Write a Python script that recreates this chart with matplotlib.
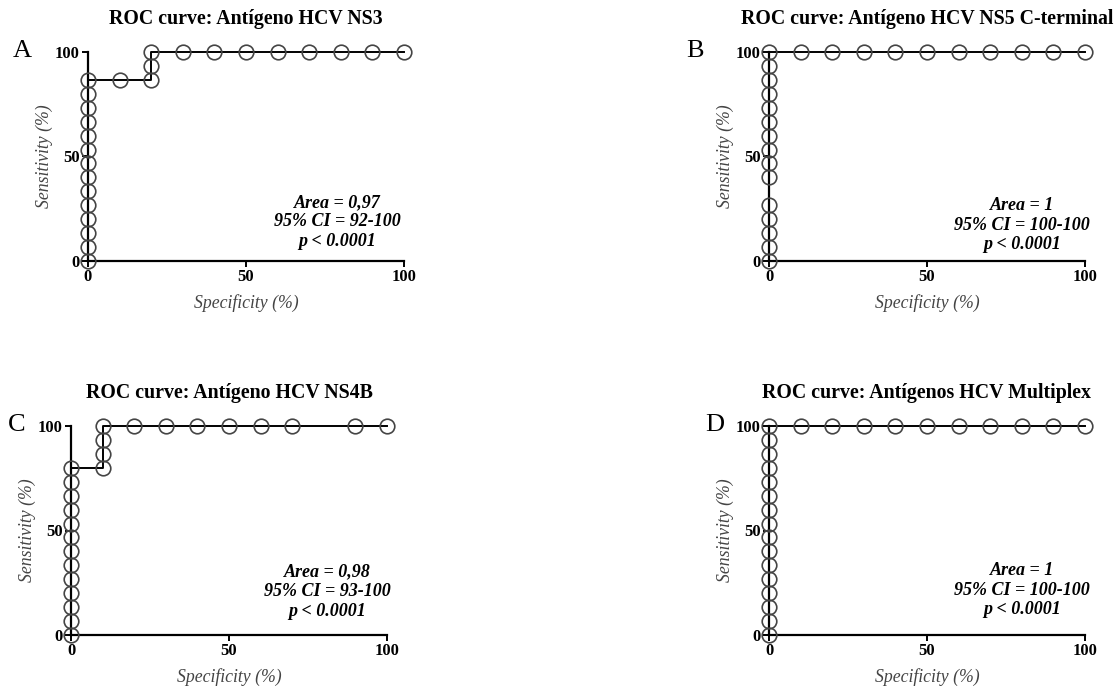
import matplotlib
matplotlib.use('Agg')
import matplotlib.pyplot as plt

matplotlib.rcParams['font.family'] = ['Liberation Serif', 'DejaVu Serif']

# ROC points (specificity %, sensitivity %)
s = 100 / 15

ns3_x = [0] * 14 + [10, 20, 20, 20, 30, 40, 50, 60, 70, 80, 90, 100]
ns3_y = [i * s for i in range(14)] + [13 * s, 13 * s, 14 * s, 100] + [100] * 8

ns5_x = [0] * 15 + [10, 20, 30, 40, 50, 60, 70, 80, 90, 100]
ns5_y = [i * s for i in [0, 1, 2, 3, 4, 6, 7, 8, 9, 10, 11, 12, 13, 14, 15]] + [100] * 10

ns4b_x = [0] * 13 + [10, 10, 10, 10, 20, 30, 40, 50, 60, 70, 90, 100]
ns4b_y = [i * s for i in range(13)] + [12 * s, 13 * s, 14 * s, 100] + [100] * 8

multi_x = [0] * 16 + [10, 20, 30, 40, 50, 60, 70, 80, 90, 100]
multi_y = [i * s for i in range(16)] + [100] * 10

titles = ['ROC curve: Antígeno HCV NS3', 'ROC curve: Antígeno HCV NS5 C-terminal',
          'ROC curve: Antígeno HCV NS4B', 'ROC curve: Antígenos HCV Multiplex']
letters = ['A', 'B', 'C', 'D']
stats = ['Area = 0,97\n95% CI = 92-100\np < 0.0001',
         'Area = 1\n95% CI = 100-100\np < 0.0001',
         'Area = 0,98\n95% CI = 93-100\np < 0.0001',
         'Area = 1\n95% CI = 100-100\np < 0.0001']
stat_pos = [(79, 18.7), (80, 17.2), (81, 20.7), (80, 21.5)]

W, H = 1117, 686
boxes = [(88, 52), (769, 52), (71, 426), (769, 426)]  # left, top in px
letter_pos = [(22, 51), (695, 51), (17, 425), (715, 425)]
aw, ah = 316, 209

fig = plt.figure(figsize=(W / 100, H / 100), dpi=100)

series = [(ns3_x, ns3_y), (ns5_x, ns5_y), (ns4b_x, ns4b_y), (multi_x, multi_y)]
for i, (xs, ys) in enumerate(series):
    l, t = boxes[i]
    ax = fig.add_axes([l / W, 1 - (t + ah) / H, aw / W, ah / H])
    ax.plot(xs, ys, color='black', lw=1.4, marker='o', ms=10.5, mfc='none',
            mec='#444444', mew=1.2, clip_on=False, zorder=3)
    ax.set_xlim(0, 100)
    ax.set_ylim(0, 100)
    ax.set_xticks([0, 50, 100])
    ax.set_yticks([0, 50, 100])
    for side in ['top', 'right']:
        ax.spines[side].set_visible(False)
    for side in ['left', 'bottom']:
        ax.spines[side].set_linewidth(1.6)
    ax.tick_params(direction='out', length=4, width=1.4, labelsize=12, pad=2)
    for lab in ax.get_xticklabels() + ax.get_yticklabels():
        lab.set_fontweight('bold')
    ax.set_xlabel('Specificity (%)', style='italic', fontsize=12.8, color='#444444', labelpad=6)
    ax.set_ylabel('Sensitivity (%)', style='italic', fontsize=12.8, color='#444444', labelpad=1)
    ax.set_title(titles[i], fontweight='bold', fontsize=14.3, pad=20)
    ax.text(stat_pos[i][0], stat_pos[i][1], stats[i], ha='center', va='center',
            fontsize=13, fontweight='bold', style='italic', linespacing=1.2)
    fig.text(letter_pos[i][0] / W, 1 - letter_pos[i][1] / H, letters[i],
             fontsize=19, ha='center', va='center')

fig.savefig('out.png', dpi=100)
